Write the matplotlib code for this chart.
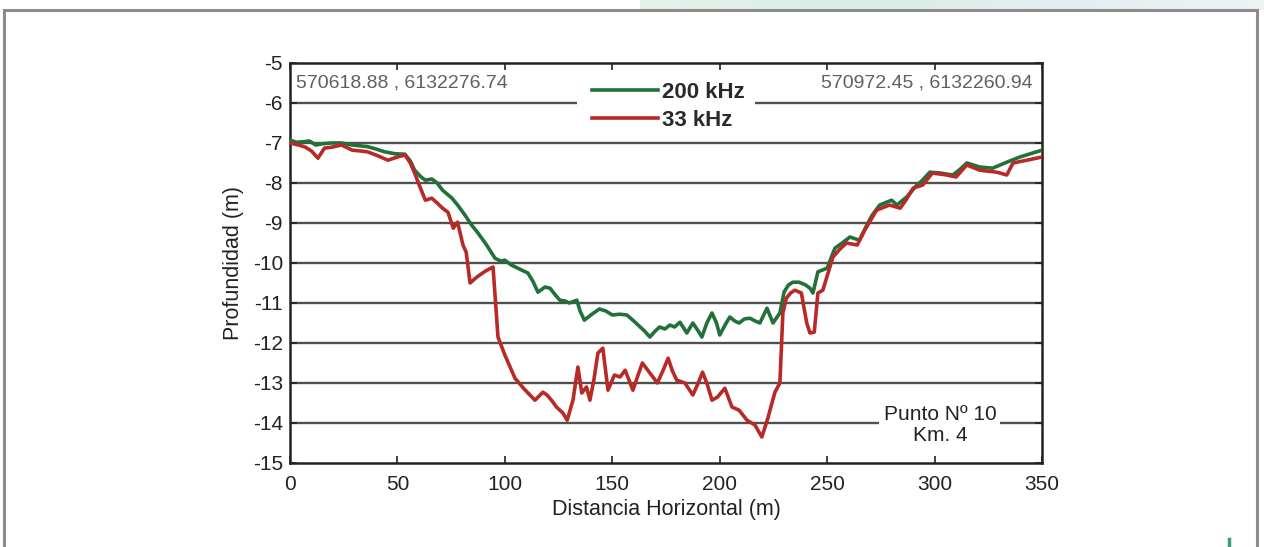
import numpy as np
import matplotlib
matplotlib.use("Agg")
import matplotlib.pyplot as plt
from matplotlib.patches import Rectangle
from matplotlib.lines import Line2D
from matplotlib.colors import LinearSegmentedColormap

plt.rcParams['font.family'] = ['Liberation Sans', 'DejaVu Sans']
plt.rcParams['axes.unicode_minus'] = False

# 200 kHz echo-sounder profile: horizontal distance (m) and depth (m)
dist_200 = [0, 3, 6, 9, 12, 15, 19, 24, 29, 36, 40, 44, 49, 53.5, 56, 58, 61, 63, 66, 68.5,
            71, 75.4, 78, 81.4, 84.5, 87.5, 91.5, 95.4, 98, 100, 103, 106, 110.7, 113, 115.4,
            118.7, 121, 123.5, 125.6, 128, 130, 133.5, 135, 137, 140, 144, 147, 150, 153.5,
            156.8, 160, 163, 165, 167.5, 170, 172, 174.5, 176.8, 179, 181.5, 184.7, 187.5, 190,
            191.7, 194, 196.4, 198.5, 200, 202.5, 204.7, 207, 209, 211.5, 214, 216.5, 218.7,
            222, 224.8, 228, 230, 232, 234, 237, 240, 242, 243.4, 245.7, 250, 253.6, 257,
            260.6, 265, 268.5, 271, 274.5, 280, 282.5, 287, 291.8, 294, 297.8, 302.5, 308.5,
            312, 315, 321, 327, 333.6, 339.7, 345.7, 350]
depth_200 = [-6.93, -6.98, -6.97, -6.95, -7.05, -7.02, -7.0, -7.0, -7.05, -7.09, -7.15, -7.22,
             -7.27, -7.28, -7.45, -7.68, -7.85, -7.93, -7.9, -8.0, -8.18, -8.38, -8.55, -8.8,
             -9.05, -9.25, -9.55, -9.88, -9.95, -9.93, -10.05, -10.13, -10.25, -10.45, -10.73,
             -10.6, -10.63, -10.8, -10.93, -10.95, -11.0, -10.93, -11.2, -11.43, -11.3, -11.15,
             -11.2, -11.3, -11.28, -11.3, -11.45, -11.6, -11.7, -11.85, -11.7, -11.6, -11.65,
             -11.55, -11.6, -11.48, -11.75, -11.5, -11.7, -11.85, -11.5, -11.25, -11.5, -11.8,
             -11.55, -11.35, -11.45, -11.5, -11.4, -11.38, -11.45, -11.5, -11.13, -11.5, -11.25,
             -10.72, -10.55, -10.48, -10.48, -10.55, -10.63, -10.75, -10.22, -10.13, -9.63,
             -9.5, -9.35, -9.43, -9.05, -8.8, -8.55, -8.43, -8.55, -8.35, -8.05, -7.95, -7.73,
             -7.75, -7.8, -7.65, -7.5, -7.6, -7.63, -7.48, -7.35, -7.25, -7.18]

# 33 kHz echo-sounder profile
dist_33 = [0, 4, 7, 10, 13, 16, 20, 24, 29, 33, 36, 40, 45.6, 50, 53.5, 56, 58, 60.5, 63, 66,
           68.5, 71, 73.5, 76, 78, 80.5, 82, 83.8, 87, 91, 94.5, 96.8, 100, 104.7, 109, 114,
           117.7, 119.6, 122, 124, 127, 129, 131.7, 134, 135.8, 138, 139.6, 141.5, 143.3,
           145.6, 148, 151, 153.6, 156, 159.6, 162, 164, 167.5, 171, 173.5, 176, 178, 180,
           183.8, 187.5, 190, 192, 194, 196.4, 199, 202.4, 205.7, 209, 212.7, 216.4, 219.6,
           222.4, 225.7, 228, 229.4, 231, 233, 235, 238, 240.5, 242, 244, 245.7, 248, 252.7,
           256, 259, 264, 267.5, 273, 279, 284, 287, 290, 294.5, 299, 305.7, 310, 315, 321,
           329, 333.6, 336.5, 343, 350]
depth_33 = [-7.0, -7.05, -7.1, -7.2, -7.38, -7.13, -7.1, -7.05, -7.18, -7.2, -7.22, -7.3, -7.43,
            -7.35, -7.3, -7.5, -7.75, -8.1, -8.43, -8.38, -8.5, -8.63, -8.73, -9.13, -8.98,
            -9.55, -9.73, -10.5, -10.35, -10.2, -10.1, -11.85, -12.3, -12.88, -13.15, -13.43,
            -13.23, -13.3, -13.45, -13.6, -13.75, -13.93, -13.43, -12.6, -13.25, -13.1, -13.43,
            -12.9, -12.25, -12.13, -13.18, -12.8, -12.85, -12.68, -13.18, -12.8, -12.5, -12.75,
            -13.0, -12.7, -12.38, -12.7, -12.93, -13.0, -13.3, -13.0, -12.73, -13.0, -13.43,
            -13.35, -13.13, -13.6, -13.68, -13.93, -14.05, -14.35, -13.88, -13.23, -13.0,
            -11.25, -10.88, -10.75, -10.68, -10.75, -11.5, -11.75, -11.73, -10.75, -10.68,
            -9.85, -9.65, -9.5, -9.55, -9.18, -8.68, -8.55, -8.63, -8.4, -8.13, -8.05, -7.75,
            -7.8, -7.85, -7.55, -7.68, -7.73, -7.8, -7.5, -7.43, -7.35]

x_ticks = [0, 50, 100, 150, 200, 250, 300, 350]
y_ticks = [-15, -14, -13, -12, -11, -10, -9, -8, -7, -6, -5]
series_labels = ["200 kHz", "33 kHz"]
start_coord = "570618.88 , 6132276.74"
end_coord = "570972.45 , 6132260.94"
site_label = "Punto Nº 10\nKm. 4"

GREEN = "#22703a"
RED = "#b82a28"
INK = "#222222"

W, H = 1264, 547
fig = plt.figure(figsize=(W / 100, H / 100), dpi=100)
fig.patch.set_facecolor("white")

# page decorations: light band at top right, framing box, small mark
band = fig.add_axes([640 / W, 1 - 10 / H, 1 - 640 / W, 10 / H])
grad = np.linspace(0, 1, 256)[None, :]
cmap = LinearSegmentedColormap.from_list("band", ["#e4f3ea", "#d9eee6", "#e3eef0", "#eef3f4"])
band.imshow(grad, aspect="auto", cmap=cmap, extent=[0, 1, 0, 1])
band.axis("off")

fig.patches.append(Rectangle((4 / W, -0.05), (1257 - 4) / W, 1.05 - 10 / H,
                             transform=fig.transFigure, fill=False,
                             edgecolor="#8c8c8c", lw=2.2, zorder=0))
fig.lines.append(Line2D([1229 / W, 1229 / W], [0, 8 / H], transform=fig.transFigure,
                        color="#3aa07a", lw=2.5))

ax = fig.add_axes([290 / W, 1 - 463 / H, (1042 - 290) / W, (463 - 63) / H])
ax.set_xlim(0, 350)
ax.set_ylim(-15, -5)

for yv in y_ticks[1:-1]:
    ax.axhline(yv, color="#505050", lw=1.7, zorder=1)

# blank strip behind the legend so the -6 m line stops on either side of it
ax.add_patch(Rectangle((133.6, -6.2), 216.4 - 133.6, 0.4, facecolor="white",
                       edgecolor="none", zorder=2))

l1, = ax.plot(dist_200, depth_200, color=GREEN, lw=2.6, zorder=3, label=series_labels[0])
l2, = ax.plot(dist_33, depth_33, color=RED, lw=2.6, zorder=4, label=series_labels[1])

ax.set_xticks(x_ticks)
ax.set_yticks(y_ticks)
ax.tick_params(direction="in", top=True, right=True, length=5, width=1.2,
               labelsize=15, colors=INK)
ax.tick_params(axis="x", pad=9)
ax.tick_params(axis="y", pad=5)
for s in ax.spines.values():
    s.set_linewidth(1.8)
    s.set_color(INK)

ax.set_xlabel("Distancia Horizontal (m)", fontsize=15.5, color=INK, labelpad=3)
ax.set_ylabel("Profundidad (m)", fontsize=15.5, color=INK, labelpad=6)

leg = ax.legend(handles=[l1, l2], loc="upper left",
                bbox_to_anchor=((581 - 290) / 752, 1 - (71 - 63) / 400),
                frameon=False, handlelength=2.95, handletextpad=0.18,
                labelspacing=0.29, borderpad=0.5, borderaxespad=0,
                prop={"size": 16, "weight": "bold"})
for t in leg.get_texts():
    t.set_color("#2a2a2a")
leg.set_zorder(6)

ax.text(0.008, 0.95, start_coord, transform=ax.transAxes, ha="left", va="center",
        fontsize=14, color="#606060")
ax.text(0.988, 0.95, end_coord, transform=ax.transAxes, ha="right", va="center",
        fontsize=14, color="#606060")

ax.text(302.5, -14.05, site_label, ha="center", va="center", fontsize=15,
        color=INK, linespacing=1.15, zorder=6,
        bbox=dict(facecolor="white", edgecolor="none", pad=3))

fig.savefig("out.png", dpi=100, facecolor="white")
